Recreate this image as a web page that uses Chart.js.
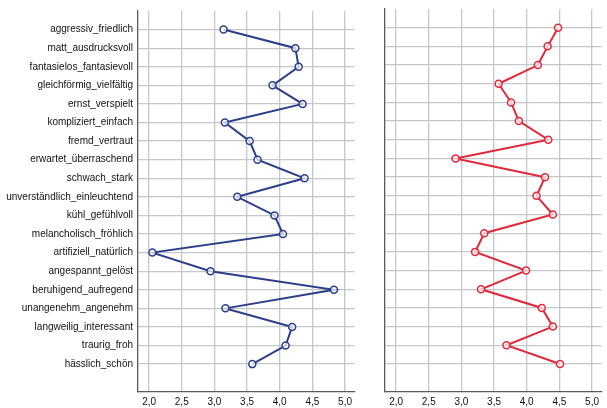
<!DOCTYPE html>
<html>
<head>
<meta charset="utf-8">
<script src="https://cdn.jsdelivr.net/npm/chart.js@4/dist/chart.umd.min.js"></script>
<style>
  body { margin: 0; background: #fff; }
  #wrap { position: relative; width: 607px; height: 408px; }
  #left { position: absolute; left: 0; top: 0; }
  #right { position: absolute; left: 360px; top: 0; }
</style>
</head>
<body>
<div id="wrap">
  <canvas id="left" width="360" height="408"></canvas>
  <canvas id="right" width="247" height="408"></canvas>
</div>
<script>
// scale items, top to bottom
var categories = [
    "aggressiv_friedlich", "matt_ausdrucksvoll", "fantasielos_fantasievoll",
    "gleichförmig_vielfältig", "ernst_verspielt", "kompliziert_einfach",
    "fremd_vertraut", "erwartet_überraschend", "schwach_stark",
    "unverständlich_einleuchtend", "kühl_gefühlvoll", "melancholisch_fröhlich",
    "artifiziell_natürlich", "angespannt_gelöst", "beruhigend_aufregend",
    "unangenehm_angenehm", "langweilig_interessant", "traurig_froh", "hässlich_schön"
];

// mean ratings, left profile (blue)
var leftValues = [3.14, 4.24, 4.29, 3.89, 4.35, 3.16, 3.54, 3.66, 4.38, 3.35,
                  3.92, 4.05, 2.05, 2.94, 4.83, 3.17, 4.19, 4.09, 3.58];

// mean ratings, right profile (red)
var rightValues = [4.48, 4.32, 4.17, 3.57, 3.76, 3.88, 4.33, 2.91, 4.28, 4.15,
                   4.40, 3.35, 3.21, 3.99, 3.30, 4.23, 4.40, 3.69, 4.51];

// x axis ticks
var xTicks = [2.0, 2.5, 3.0, 3.5, 4.0, 4.5, 5.0];

var gridColor = "#c4c7ca";
var axisColor = "#5a5a5a";
var labelFont = { family: "Liberation Sans, Arial, sans-serif", size: 10 };

function points(values) {
    return values.map(function (v, i) { return { x: v, y: i }; });
}

function makeChart(id, values, color, showLabels, yWidth) {
    return new Chart(document.getElementById(id), {
        type: "line",
        data: {
            datasets: [{
                data: points(values),
                borderColor: color,
                borderWidth: 2,
                pointRadius: 3.5,
                pointBorderWidth: 1.5,
                pointBackgroundColor: "rgba(255,255,255,0.7)",
                pointBorderColor: color,
                tension: 0
            }]
        },
        options: {
            responsive: false,
            animation: false,
            layout: { padding: { top: 9, right: showLabels ? 5 : 1, left: 0, bottom: 0 } },
            plugins: { legend: { display: false }, tooltip: { enabled: false } },
            scales: {
                x: {
                    type: "linear",
                    min: 1.83,
                    max: 5.145,
                    afterBuildTicks: function (axis) {
                        axis.ticks = xTicks.map(function (v) { return { value: v }; });
                    },
                    afterFit: function (scale) { scale.height = 16; },
                    grid: { color: gridColor, lineWidth: 1.3, drawTicks: false },
                    border: { display: true, color: axisColor, width: 1.3 },
                    ticks: {
                        padding: 4,
                        color: "#111",
                        font: labelFont,
                        callback: function (v) { return v.toFixed(1).replace(".", ","); }
                    }
                },
                y: {
                    type: "linear",
                    reverse: true,
                    min: -1,
                    max: 19.5,
                    afterBuildTicks: function (axis) {
                        axis.ticks = categories.map(function (c, i) { return { value: i }; });
                    },
                    afterFit: function (scale) { scale.width = yWidth; },
                    grid: { color: gridColor, lineWidth: 1.3, drawTicks: false },
                    border: { display: true, color: axisColor, width: 1.3 },
                    ticks: {
                        display: showLabels,
                        padding: 5,
                        color: "#111",
                        font: labelFont,
                        callback: function (v) { return categories[v] || ""; }
                    }
                }
            }
        }
    });
}

makeChart("left", leftValues, "#2b3f8a", true, 138);
makeChart("right", rightValues, "#e02a3c", false, 25);
</script>
</body>
</html>
